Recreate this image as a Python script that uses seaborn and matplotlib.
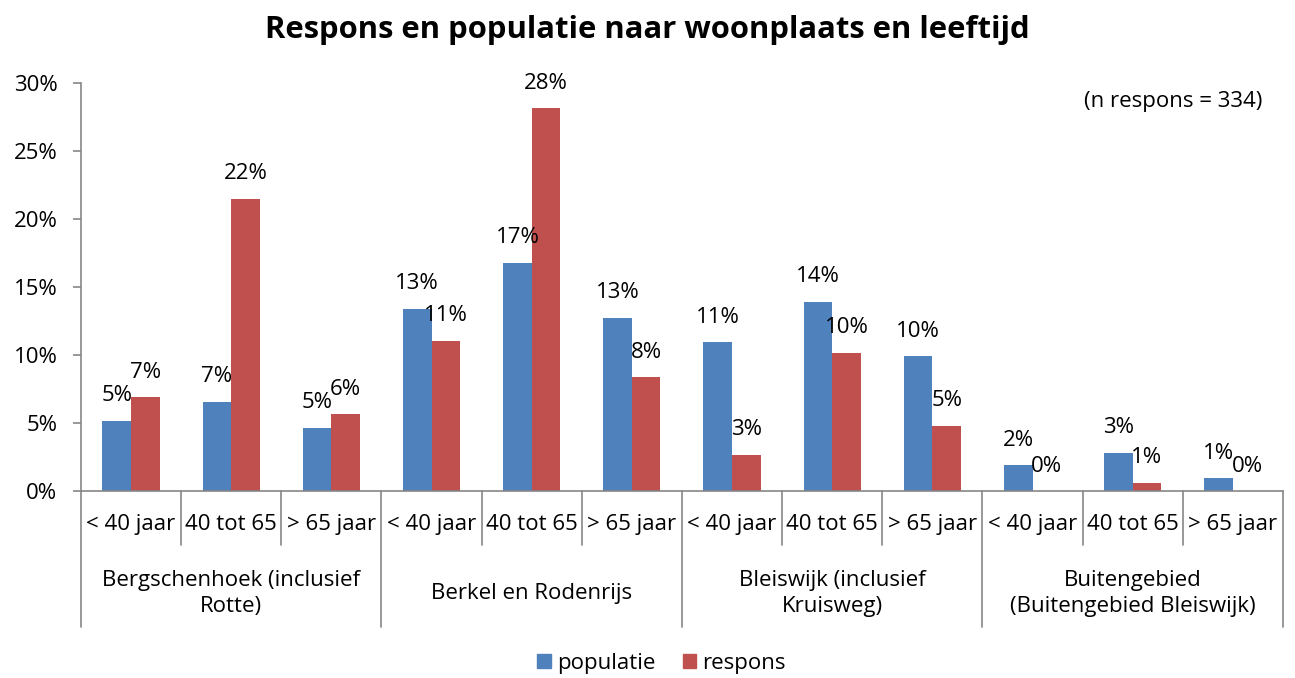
import matplotlib.pyplot as plt
import matplotlib.ticker as mtick
from matplotlib.patches import Patch
import pandas as pd
import seaborn as sns

# values (percent of total)
woonplaatsen = [
    "Bergschenhoek (inclusief\nRotte)",
    "Berkel en Rodenrijs",
    "Bleiswijk (inclusief\nKruisweg)",
    "Buitengebied\n(Buitengebied Bleiswijk)",
]
leeftijden = ["< 40 jaar", "40 tot 65", "> 65 jaar"]
populatie = [5.15, 6.55, 4.65, 13.4, 16.8, 12.75, 10.95, 13.9, 9.9, 1.9, 2.8, 0.95]
respons = [6.9, 21.5, 5.65, 11.05, 28.15, 8.35, 2.65, 10.15, 4.8, 0.0, 0.6, 0.0]
series = ["populatie", "respons"]
colors = ["#4F81BD", "#C0504D"]

# long table for seaborn
slots = [f"{w}|{l}" for w in woonplaatsen for l in leeftijden]
df = pd.DataFrame({
    "slot": slots * 2,
    "serie": ["populatie"] * len(slots) + ["respons"] * len(slots),
    "waarde": [v / 100 for v in populatie + respons],
})

sns.set_theme(style="white")
plt.rcParams["font.family"] = ["Open Sans", "DejaVu Sans"]
plt.rcParams["text.color"] = "black"
plt.rcParams["ytick.color"] = "black"
grey = "#868686"
fs = 16

fig = plt.figure(figsize=(12.95, 6.78), dpi=100)
ax = fig.add_axes([0.0625, 0.2758, 0.9282, 0.6018])

sns.barplot(data=df, x="slot", y="waarde", hue="serie", order=slots,
            hue_order=series, palette=colors, width=0.57, saturation=1,
            linewidth=0, legend=False, ax=ax)

ax.set_xlim(-0.5, len(slots) - 0.5)
ax.set_ylim(0, 0.30)
ax.yaxis.set_major_locator(mtick.MultipleLocator(0.05))
ax.yaxis.set_major_formatter(mtick.PercentFormatter(1.0, decimals=0))
ax.tick_params(axis="y", length=6, width=1.2, color=grey, labelsize=fs,
               labelcolor="black", pad=11, left=True)
ax.set_xticks([])
ax.set_xlabel("")
ax.set_ylabel("")
for side in ["top", "right"]:
    ax.spines[side].set_visible(False)
for side in ["left", "bottom"]:
    ax.spines[side].set_color(grey)
    ax.spines[side].set_linewidth(1.2)

# data labels above each bar
for cont in ax.containers:
    for bar in cont:
        h = bar.get_height()
        ax.annotate(f"{h:.0%}", (bar.get_x() + bar.get_width() / 2, h),
                    xytext=(0, 18), textcoords="offset points",
                    ha="center", va="center", fontsize=fs)

# two-level category axis
tr = ax.get_xaxis_transform()
for i in range(len(slots) + 1):
    bottom = -0.333 if i % 3 == 0 else -0.132
    ax.plot([i - 0.5, i - 0.5], [0, bottom], color=grey, lw=1.2,
            transform=tr, clip_on=False)
for i, s in enumerate(slots):
    ax.text(i, -0.081, s.split("|")[1], transform=tr, ha="center",
            va="center", fontsize=fs)
for g, w in enumerate(woonplaatsen):
    ax.text(g * 3 + 1, -0.252, w, transform=tr, ha="center", va="center",
            fontsize=fs, linespacing=1.3)

fig.text(0.5, 1 - 30 / 678, "Respons en populatie naar woonplaats en leeftijd",
         ha="center", va="center", fontsize=22.3, fontweight="bold")
fig.text(1262 / 1295, 1 - 102 / 678, "(n respons = 334)", ha="right",
         va="center", fontsize=16)

handles = [Patch(color=c, label=s) for c, s in zip(colors, series)]
fig.legend(handles=handles, loc="center", bbox_to_anchor=(0.511, 1 - 663 / 678),
           ncol=2, frameon=False, fontsize=fs, handlelength=0.6,
           handleheight=0.6, handletextpad=0.3, columnspacing=1.2)

fig.savefig("out.png", dpi=100)
